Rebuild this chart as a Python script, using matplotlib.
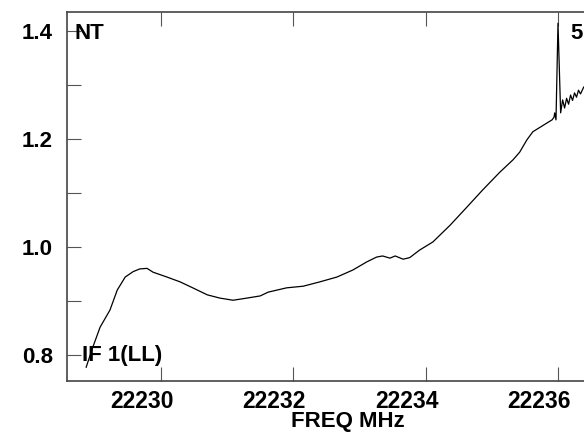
import matplotlib.pyplot as plt
import matplotlib.transforms as mtransforms
from matplotlib.ticker import MultipleLocator, FixedLocator

plt.rcParams['font.family'] = ['Liberation Sans', 'DejaVu Sans']
plt.rcParams['font.weight'] = 'bold'

# spectrum (frequency in MHz, amplitude)
freq = [22228.87, 22228.97, 22229.08, 22229.23, 22229.34, 22229.46, 22229.58,
        22229.68, 22229.79, 22229.88, 22230.09, 22230.29, 22230.48, 22230.70,
        22230.89, 22231.09, 22231.30, 22231.50, 22231.62, 22231.90, 22232.15,
        22232.40, 22232.66, 22232.90, 22233.11, 22233.26, 22233.35, 22233.46,
        22233.54, 22233.66, 22233.76, 22233.91, 22234.11, 22234.37, 22234.62,
        22234.86, 22235.12, 22235.32, 22235.42, 22235.53, 22235.62, 22235.83,
        22235.91, 22235.94, 22235.95, 22235.97, 22236.00, 22236.04, 22236.07,
        22236.10, 22236.13, 22236.16, 22236.19, 22236.22, 22236.25, 22236.28,
        22236.31, 22236.34, 22236.39, 22236.45]
amp = [0.778, 0.815, 0.852, 0.884, 0.921, 0.945, 0.955,
       0.960, 0.961, 0.954, 0.945, 0.936, 0.925, 0.912,
       0.906, 0.902, 0.906, 0.910, 0.917, 0.925, 0.928,
       0.936, 0.945, 0.958, 0.973, 0.982, 0.984, 0.980,
       0.984, 0.978, 0.981, 0.995, 1.010, 1.041, 1.074,
       1.106, 1.139, 1.162, 1.176, 1.199, 1.214, 1.230,
       1.236, 1.241, 1.249, 1.236, 1.415, 1.249, 1.273,
       1.258, 1.276, 1.265, 1.282, 1.272, 1.286, 1.278,
       1.291, 1.284, 1.297, 1.300]

x_major = [22230, 22232, 22234, 22236]
y_labels = [0.8, 1.0, 1.2, 1.4]

fig = plt.figure(figsize=(5.84, 4.34), dpi=100)
ax = fig.add_axes([0.1147, 0.1228, 0.962, 0.8507])

ax.plot(freq, amp, color='black', linewidth=0.9)

ax.set_xlim(22228.58, 22237.07)
ax.set_ylim(0.753, 1.4367)

ax.xaxis.set_major_locator(FixedLocator(x_major))
ax.set_xticklabels([str(v) for v in x_major])
ax.yaxis.set_major_locator(FixedLocator(y_labels))
ax.yaxis.set_minor_locator(MultipleLocator(0.1))
ax.set_yticklabels(['%.1f' % v for v in y_labels])

ax.tick_params(which='both', direction='in', length=10, width=0.8,
               color='#555555', top=True, right=True)
ax.tick_params(axis='x', which='major', labelsize=16.5, pad=7)
ax.tick_params(axis='y', which='major', labelsize=16, pad=10)

# the x labels sit a bit left of their ticks in the original
shift = mtransforms.ScaledTranslation(-0.19, 0, fig.dpi_scale_trans)
for lab in ax.get_xticklabels():
    lab.set_transform(lab.get_transform() + shift)

for s in ax.spines.values():
    s.set_color('#444444')
    s.set_linewidth(1.2)

ax.set_xlabel('FREQ MHz', fontsize=16, fontweight='bold', labelpad=-2)

ax.text(22228.69, 1.386, 'NT', fontsize=16, fontweight='bold')
ax.text(22236.19, 1.386, '5', fontsize=16, fontweight='bold')
ax.text(22228.81, 0.789, 'IF 1(LL)', fontsize=16, fontweight='bold')

fig.savefig('out.png', dpi=100)
